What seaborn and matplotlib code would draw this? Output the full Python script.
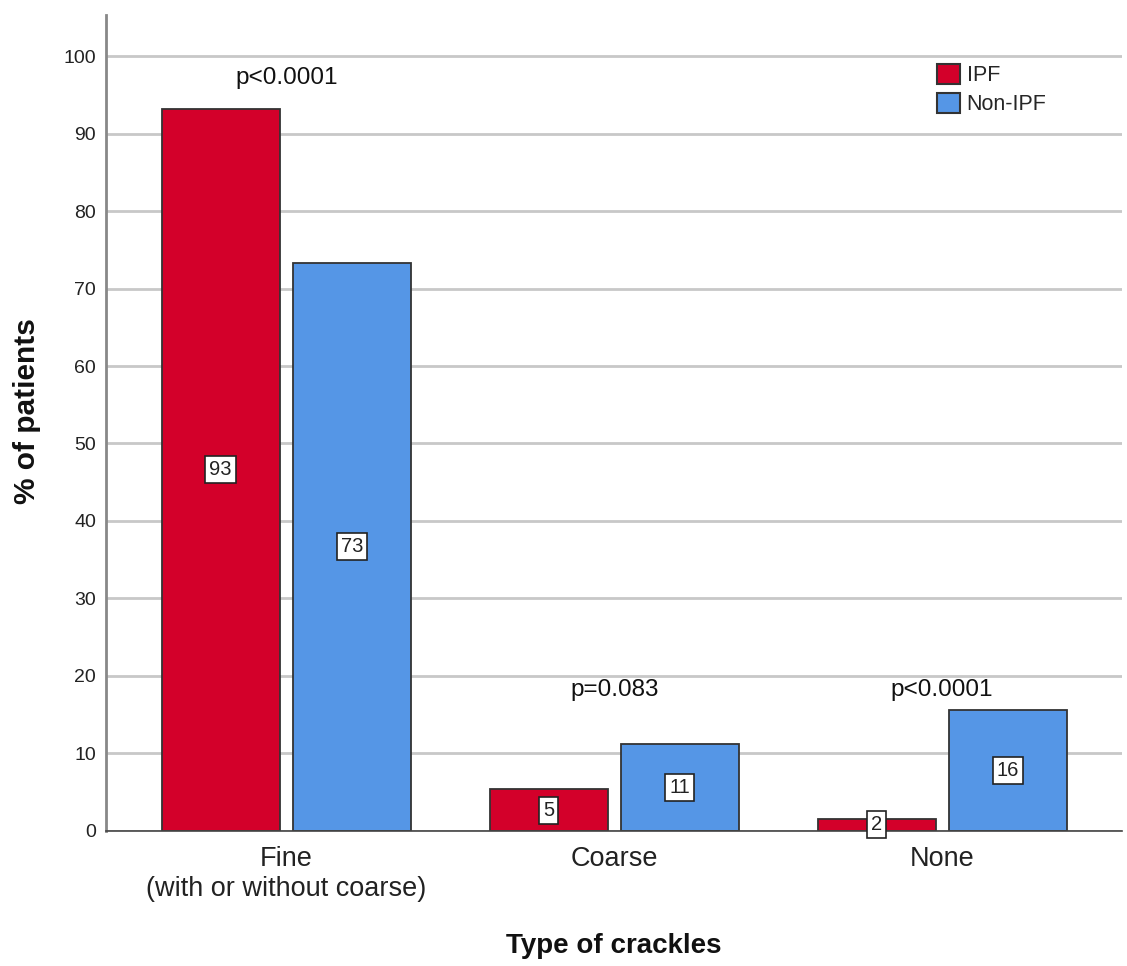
import numpy as np
import pandas as pd
import matplotlib
matplotlib.use("Agg")
import matplotlib.pyplot as plt
import seaborn as sns

categories = ["Fine\n(with or without coarse)", "Coarse", "None"]
groups = ["IPF", "Non-IPF"]
ipf_values = [93.2, 5.4, 1.6]
non_ipf_values = [73.3, 11.2, 15.6]
p_labels = ["p<0.0001", "p=0.083", "p<0.0001"]
p_heights = [97.2, 18.2, 18.2]
colors = ["#D3002A", "#5596E6"]

df = pd.DataFrame({
    "Type": categories * 2,
    "Group": [groups[0]] * 3 + [groups[1]] * 3,
    "Percent": ipf_values + non_ipf_values,
})

sns.set_style("white")
plt.rcParams["font.family"] = ["Liberation Sans", "DejaVu Sans"]

fig = plt.figure(figsize=(11.27, 9.66), dpi=100)
ax = fig.add_axes([0.094, 0.1398, 0.902, 0.8447])

sns.barplot(ax=ax, data=df, x="Type", y="Percent", hue="Group",
            order=categories, hue_order=groups, palette=colors,
            width=0.8, gap=0.1, edgecolor="#333333", linewidth=1.3,
            saturation=1, legend=False)

for cont in ax.containers:
    ax.bar_label(cont, fmt="%.0f", label_type="center", fontsize=14.5, color="#222222",
                 bbox=dict(boxstyle="square,pad=0.2", fc="white", ec="#222222", lw=1.2))

for i, (lab, h) in enumerate(zip(p_labels, p_heights)):
    ax.text(i, h, lab, ha="center", va="center", fontsize=17.5, color="#111111")

ax.set_xlim(-0.55, 2.55)
ax.set_ylim(0, 105.3)
ax.set_yticks(np.arange(0, 101, 10))
ax.yaxis.grid(True, color="#c8c8c8", linewidth=2)
ax.set_axisbelow(True)
ax.tick_params(axis="y", labelsize=14, colors="#222222", length=0, pad=7)
ax.tick_params(axis="x", labelsize=19.5, colors="#222222", length=0, pad=11)
for t in ax.get_xticklabels():
    t.set_linespacing(1.2)

for s in ["top", "right"]:
    ax.spines[s].set_visible(False)
ax.spines["left"].set_color("#888888")
ax.spines["left"].set_linewidth(2)
ax.spines["bottom"].set_color("#444444")
ax.spines["bottom"].set_linewidth(1.2)

ax.set_xlabel("Type of crackles", fontsize=20, fontweight="bold", labelpad=22, color="#111111")
ax.set_ylabel("% of patients", fontsize=21.5, fontweight="bold", labelpad=16, color="#111111")
ax.yaxis.label.set_y(0.515)

handles = [plt.Rectangle((0, 0), 1, 1, fc=c, ec="#333333", lw=1.5) for c in colors]
ax.legend(handles, groups, loc="upper left", bbox_to_anchor=(0.818, 0.94),
          frameon=False, fontsize=15.5, handlelength=1.05, handleheight=1.05,
          handletextpad=0.3, labelspacing=0.3, borderpad=0, borderaxespad=0)

plt.savefig("out.png", dpi=100)
